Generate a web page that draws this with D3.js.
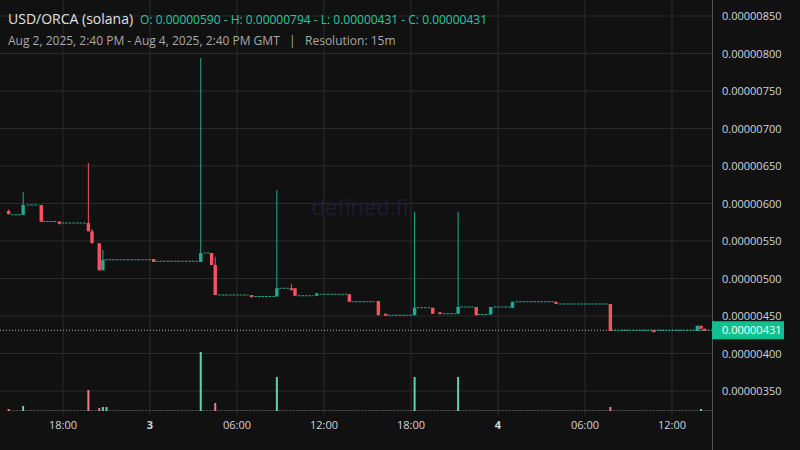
<!DOCTYPE html>
<meta charset="utf-8">
<script src="https://d3js.org/d3.v7.min.js"></script>
<style>body{margin:0;background:#111}text{font-family:"Open Sans",sans-serif}</style>
<div id="chart"></div>
<script>
// hours since Aug 2 00:00, prices in 1e-8
const candles = [
  [14.25,590,592,585,586],[15.25,585,615,585,598],[16.5,598,598,575,576],[17.75,576,576,572,573],
  [19.75,574,654,563,563],[20,563,566,547,547],[20.5,547,547,511,511],[20.75,511,538,511,525],
  [24.25,526,526,522,522],[27.5,522,794,522,534],[28.25,534,534,518,518],[28.5,518,529,478,478],
  [31,478,478,475,475],[32.75,476,618,476,487],[33.75,487,493,486,486],[34,487,487,477,477],
  [35.5,477,481,477,480],[37.75,479,479,469,469],[39.75,470,470,451,451],[40.25,453,453,451,451],
  [42.25,451,589,451,461],[43.5,461,461,453,453],[44,455,455,453,453],[45.25,453,589,453,462],
  [46.5,462,462,451,451],[47.5,452,462,452,462],[49,461,469,461,469],[52,469,469,466,466],
  [55.75,466,466,430,430],[58.75,431,431,430,430],[61.75,431,437,431,437],[62,437,437,433,433],
  [62.25,433,433,431,431]
];
const flats = [
  [14.4,15.1,585],[15.5,16.3,598],[16.6,17.6,576],[17.9,19.6,574],[20.9,24.1,525],[24.4,27.3,523],
  [27.7,28.1,534],[28.7,30.8,478],[31.2,32.6,476],[32.9,33.6,487],[34.2,35.3,477],[35.7,37.6,479],
  [37.9,39.5,469],[40.4,42.1,451],[42.4,43.4,461],[44.2,45.1,453],[45.4,46.3,462],[46.6,47.4,452],
  [47.7,48.9,462],[49.2,51.9,469],[52.2,55.6,466],[56,62.6,431]
];
const volumes = [
  [14.25,2,0],[15.25,5,1],[19.75,21,0],[20.5,3,0],[20.75,4,1],[21,4,1],[27.5,59,1],[28.5,8,0],
  [32.75,34,1],[42.25,34,1],[45.25,34,1],[55.75,4,0],[62,2,1]
];
const priceTicks = [850,800,750,700,650,600,550,500,450,400,350];
const timeTicks = [[18,"18:00"],[24,"3"],[30,"06:00"],[36,"12:00"],[42,"18:00"],[48,"4"],[54,"06:00"],[60,"12:00"]];
const lastPrice = 431;

const W = 800, H = 450, plotR = 712;
const up = "#22ab94", down = "#f7525f";
const fmt = p => (p * 1e-8).toFixed(8);

const svg = d3.select("#chart").append("svg").attr("width", W).attr("height", H);
svg.append("rect").attr("width", W).attr("height", H).attr("fill", "#111111");

const x = d3.scaleLinear().domain([13.655, 62.76]).range([0, plotR]);
const y = d3.scaleLinear().domain([350, 850]).range([391, 16]);
const yv = d3.scaleLinear().domain([0, 60]).range([411, 351]);

// grid
svg.append("g").selectAll("line").data(priceTicks).join("line")
  .attr("x1", 0).attr("x2", plotR).attr("y1", d => y(d)).attr("y2", d => y(d))
  .attr("stroke", "#2b2b2b");
svg.append("g").selectAll("line").data(timeTicks).join("line")
  .attr("x1", d => x(d[0])).attr("x2", d => x(d[0])).attr("y1", 0).attr("y2", 415)
  .attr("stroke", "#2b2b2b");

// watermark
svg.append("text").attr("x", 360).attr("y", 215).attr("text-anchor", "middle")
  .attr("font-size", 22).attr("fill", "#1e1c33").text("defined.fi");

// volume baseline dots
svg.append("line").attr("x1", 8).attr("x2", plotR).attr("y1", 410.5).attr("y2", 410.5)
  .attr("stroke", "#4a4a4a").attr("stroke-dasharray", "2.6,1");
svg.append("g").selectAll("rect").data(volumes).join("rect")
  .attr("x", d => x(d[0]) - 1).attr("width", 2)
  .attr("y", d => yv(d[1])).attr("height", d => 411 - yv(d[1]))
  .attr("fill", d => d[2] ? "#5fd3b0" : "#f27a84");

// last price dotted line
svg.append("line").attr("x1", 0).attr("x2", plotR).attr("y1", y(lastPrice)).attr("y2", y(lastPrice))
  .attr("stroke", "#bbb").attr("stroke-dasharray", "1,2");

// flat doji runs
svg.append("g").selectAll("line").data(flats).join("line")
  .attr("x1", d => x(d[0])).attr("x2", d => x(d[1])).attr("y1", d => y(d[2])).attr("y2", d => y(d[2]))
  .attr("stroke", up).attr("stroke-width", 1).attr("stroke-dasharray", "2.6,1");

// candles
const c = svg.append("g").selectAll("g").data(candles).join("g");
c.append("line").attr("x1", d => x(d[0])).attr("x2", d => x(d[0]))
  .attr("y1", d => y(d[2])).attr("y2", d => y(d[3]))
  .attr("stroke", d => d[4] >= d[1] ? up : down);
c.append("rect").attr("x", d => x(d[0]) - 1.7).attr("width", 3.4)
  .attr("y", d => y(Math.max(d[1], d[4])))
  .attr("height", d => Math.max(2, Math.abs(y(d[1]) - y(d[4]))))
  .attr("fill", d => d[4] >= d[1] ? up : down);

// right axis
svg.append("line").attr("x1", plotR + 0.5).attr("x2", plotR + 0.5).attr("y1", 0).attr("y2", H)
  .attr("stroke", "#555");
svg.append("g").selectAll("text").data(priceTicks).join("text")
  .attr("x", 722).attr("y", d => y(d) + 4).attr("font-size", 11).attr("fill", "#d1d4dc")
  .text(fmt);
svg.append("rect").attr("x", plotR).attr("y", y(lastPrice) - 9).attr("width", 72).attr("height", 18)
  .attr("fill", "#12c08f");
svg.append("text").attr("x", 722).attr("y", y(lastPrice) + 4).attr("font-size", 11)
  .attr("fill", "#fff").text(fmt(lastPrice));

// bottom axis
svg.append("g").selectAll("text").data(timeTicks).join("text")
  .attr("x", d => x(d[0])).attr("y", 429).attr("text-anchor", "middle").attr("font-size", 11)
  .attr("font-weight", d => d[1].length === 1 ? "bold" : "normal")
  .attr("fill", "#d1d4dc").text(d => d[1]);

// header
const h1 = svg.append("text").attr("x", 8).attr("y", 24);
h1.append("tspan").attr("font-size", 14).attr("fill", "#e0e0e0").text("USD/ORCA (solana)");
h1.append("tspan").attr("dx", 7).attr("font-size", 12).attr("fill", "#26c8a0")
  .text("O: 0.00000590 - H: 0.00000794 - L: 0.00000431 - C: 0.00000431");
svg.append("text").attr("x", 8).attr("y", 45).attr("font-size", 12).attr("fill", "#a8a8a8")
  .attr("xml:space", "preserve")
  .text("Aug 2, 2025, 2:40 PM - Aug 4, 2025, 2:40 PM GMT   |   Resolution: 15m");
</script>
